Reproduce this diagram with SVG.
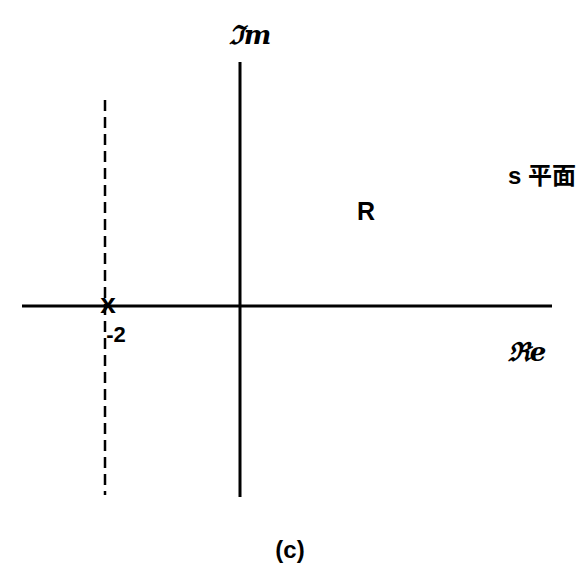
<svg xmlns="http://www.w3.org/2000/svg" width="576" height="576" viewBox="0 0 576 576">
<style>
.ax{stroke:#000;stroke-width:3;fill:none}
.ds{stroke:#000;stroke-width:2.5;fill:none;stroke-dasharray:11 6}
.t{font-family:"Liberation Sans","Noto Sans CJK SC",sans-serif;font-weight:bold;fill:#000}
.f{font-family:"DejaVu Serif",serif;font-style:italic;font-weight:bold;fill:#000}
</style>
<rect width="576" height="576" fill="#fff"/>
<g id="connectors">
<line class="ax" x1="240" y1="62" x2="240" y2="497"/>
<line class="ax" x1="22" y1="306" x2="552" y2="306"/>
<line class="ds" x1="105" y1="100" x2="105" y2="495"/>
</g>
<g id="pole">
<text class="t" x="108" y="313" font-size="28" text-anchor="middle">x</text>
<text class="t" x="116" y="342" font-size="22" text-anchor="middle">-2</text>
</g>
<g id="labels">
<text class="f" x="250" y="44" font-size="26" text-anchor="middle">ℑm</text>
<text class="f" x="527" y="361" font-size="26" text-anchor="middle">ℜe</text>
<text class="t" x="366" y="220" font-size="25" text-anchor="middle">R</text>
<text class="t" x="542" y="184" font-size="24" text-anchor="middle">s 平面</text>
<text class="t" x="290" y="558" font-size="24" text-anchor="middle">(c)</text>
</g>
</svg>
